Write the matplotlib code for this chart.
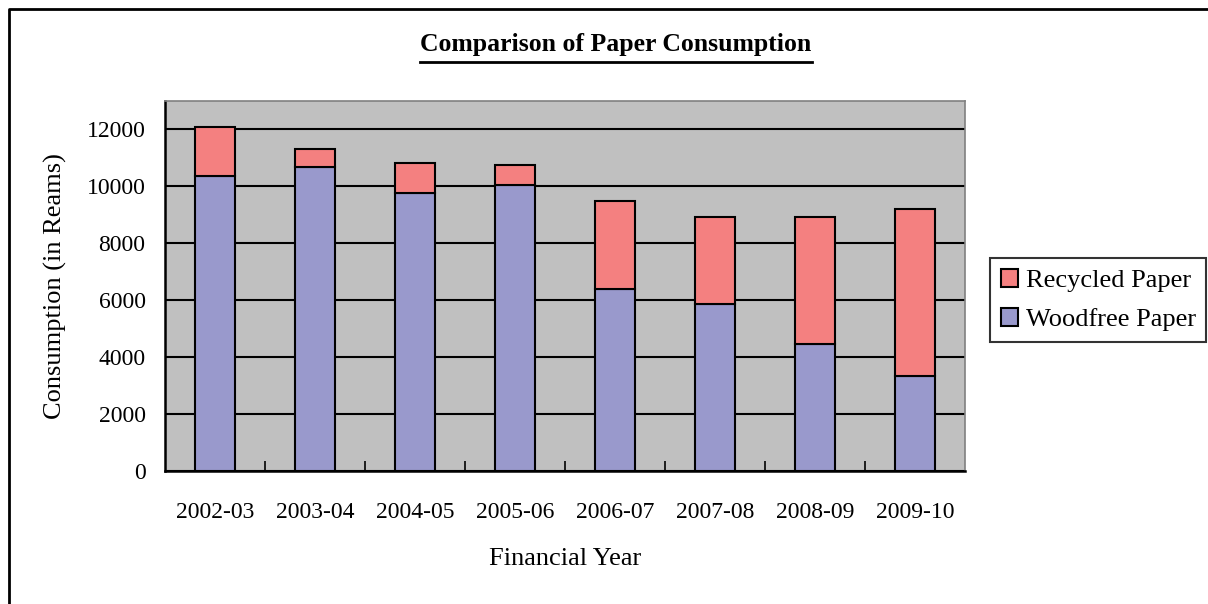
import numpy as np
import matplotlib
matplotlib.use("Agg")
import matplotlib.pyplot as plt
from matplotlib.lines import Line2D
from matplotlib.patches import Patch

plt.rcParams['font.family'] = ['Liberation Serif', 'DejaVu Serif']

years = ['2002-03', '2003-04', '2004-05', '2005-06', '2006-07', '2007-08', '2008-09', '2009-10']
woodfree = [10350, 10680, 9780, 10050, 6410, 5860, 4450, 3340]
recycled = [1730, 620, 1030, 700, 3090, 3060, 4470, 5860]

W, H = 1208, 604
fig = plt.figure(figsize=(W / 100, H / 100), dpi=100)
ax = fig.add_axes([165 / W, 1 - 471 / H, 800 / W, 370 / H])

x = np.arange(len(years))
ax.set_facecolor('#C0C0C0')
ax.bar(x, woodfree, width=0.4, color='#9999CC', edgecolor='black', linewidth=1.5,
       label='Woodfree Paper', zorder=3)
ax.bar(x, recycled, width=0.4, bottom=woodfree, color='#F48080', edgecolor='black',
       linewidth=1.5, label='Recycled Paper', zorder=3)

ax.set_xlim(-0.5, len(years) - 0.5)
ax.set_ylim(0, 13000)
ax.set_yticks(np.arange(0, 13000, 2000))
ax.yaxis.grid(True, color='black', linewidth=1.5, zorder=1)
ax.set_axisbelow(True)

ax.set_xticks(x)
ax.set_xticklabels(years, fontsize=17)
ax.set_xticks(np.arange(0.5, len(years) - 0.5, 1), minor=True)
ax.tick_params(axis='x', which='major', length=0, pad=22)
ax.tick_params(axis='x', which='minor', direction='in', length=7, width=1.2)
ax.tick_params(axis='y', length=0, labelsize=17, pad=14)

for s in ['top', 'right']:
    ax.spines[s].set_color('#808080')
    ax.spines[s].set_linewidth(1.2)
for s in ['left', 'bottom']:
    ax.spines[s].set_color('black')
    ax.spines[s].set_linewidth(1.8)

ax.set_xlabel('Financial Year', fontsize=19, labelpad=18)
ax.set_ylabel('Consumption (in Reams)', fontsize=19, labelpad=14)

# legend sits outside the plot, on the right
handles = [Patch(facecolor='#F48080', edgecolor='black', linewidth=1.5),
           Patch(facecolor='#9999CC', edgecolor='black', linewidth=1.5)]
leg = fig.legend(handles, ['Recycled Paper', 'Woodfree Paper'], loc='center left',
                 bbox_to_anchor=(990 / W, 1 - 300 / H), fontsize=19, frameon=True,
                 fancybox=False, edgecolor='black', handlelength=0.65, handleheight=0.65,
                 handletextpad=0.3, borderpad=0.4, labelspacing=0.6, borderaxespad=0)
leg.get_frame().set_linewidth(1.5)

title = fig.text(616 / W, 1 - 45 / H, 'Comparison of Paper Consumption', fontsize=18.5,
                 fontweight='bold', ha='center', va='center')
fig.canvas.draw()
bb = title.get_window_extent(fig.canvas.get_renderer())
fig.add_artist(Line2D([bb.x0 / W, bb.x1 / W], [1 - 62 / H, 1 - 62 / H],
                      transform=fig.transFigure, color='black', linewidth=2))

# outer chart border
fig.add_artist(Line2D([9 / W, 9 / W, 1.0], [0, 1 - 9 / H, 1 - 9 / H],
                      transform=fig.transFigure, color='black', linewidth=2))

fig.savefig('out.png', dpi=100)
